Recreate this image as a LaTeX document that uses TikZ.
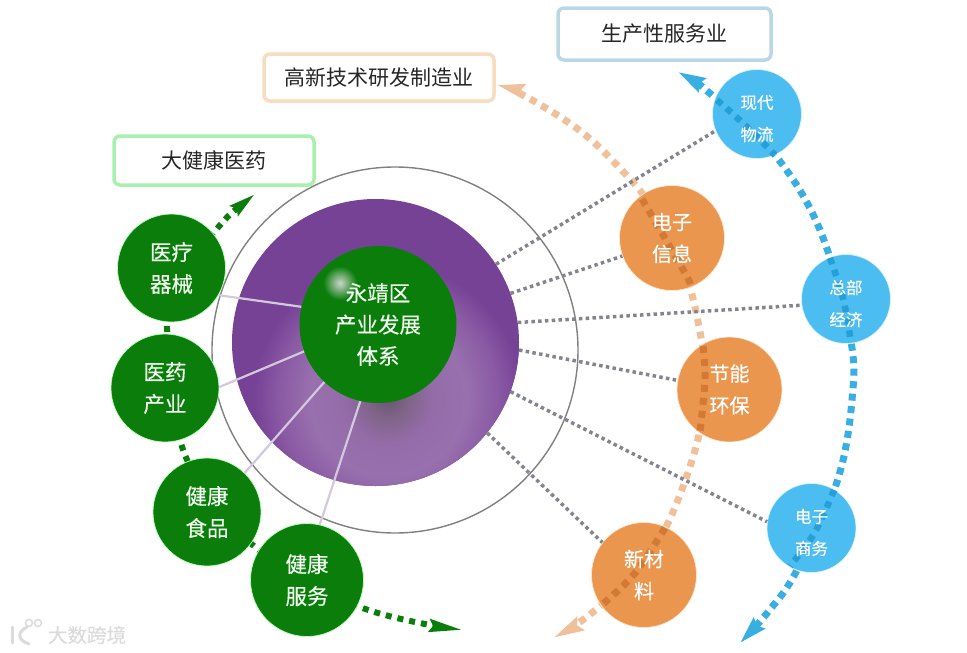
\documentclass[tikz,border=0pt]{standalone}
\usepackage{fontspec}
\usepackage{tikz}
\usetikzlibrary{arrows.meta}
\setmainfont{Noto Sans CJK SC}
\newfontfamily\heavycjk[FakeBold=0.35]{Noto Sans CJK SC}

\definecolor{leafgreen}{HTML}{0B7D0B}
\definecolor{ringpurple}{HTML}{764296}
\definecolor{sunorange}{HTML}{EB964F}
\definecolor{skyblue}{HTML}{4CBDF0}
\definecolor{arcorange}{HTML}{F0C09A}
\definecolor{arcdeep}{HTML}{D27A35}
\definecolor{arcblue}{HTML}{38AEE2}
\definecolor{arcbluedeep}{HTML}{259FD8}
\definecolor{dotgrey}{HTML}{84848E}
\definecolor{spokegrey}{HTML}{D4C8DC}
\definecolor{glowa}{HTML}{6A5570}
\definecolor{glowb}{HTML}{7F6488}
\definecolor{glowc}{HTML}{946CA8}
\definecolor{glowd}{HTML}{9870AE}
\definecolor{glowe}{HTML}{8A5AA4}
\definecolor{boxgreen}{HTML}{A8F0B0}
\definecolor{boxorange}{HTML}{F8DCC0}
\definecolor{boxblue}{HTML}{B8D8E4}

\pgfdeclareradialshading{ringglow}{\pgfpointorigin}{
  color(0bp)=(glowa);
  color(3.5bp)=(glowb);
  color(8bp)=(glowc);
  color(14bp)=(glowd);
  color(19.5bp)=(glowe);
  color(24bp)=(ringpurple);
  color(50bp)=(ringpurple)
}

\tikzset{
  greennode/.style={circle, fill=leafgreen, draw=green!25!white, line width=0.7pt, inner sep=0pt},
  orangenode/.style={circle, fill=sunorange, draw=orange!20!white, line width=0.7pt, minimum size=105pt, inner sep=0pt},
  bluenode/.style={circle, fill=skyblue, draw=cyan!15!white, line width=0.7pt, minimum size=89pt, inner sep=0pt},
  paletext/.style={text=green!6!white, align=center, font=\heavycjk\fontsize{21.5}{32}\selectfont},
  whitetext/.style={text=white, align=center, font=\heavycjk\fontsize{20}{32}\selectfont},
  smalltext/.style={text=white, align=center, yshift=-4.5pt, font=\heavycjk\fontsize{16.5}{32}\selectfont},
  titlebox/.style={rectangle, rounded corners=6pt, fill=white, line width=3.5pt, text=black!85, font=\fontsize{21}{26}\selectfont},
  spoke/.style={spokegrey, line width=2.2pt},
  dotline/.style={dotgrey, line width=3.5pt, dash pattern=on 3.5pt off 3.3pt},
  greenarc/.style={leafgreen, line width=6pt, dash pattern=on 6pt off 6pt,
    {Stealth[length=26pt,width=12pt,inset=3pt]}-{Stealth[length=33pt,width=12pt,inset=3pt]}},
  orangearc/.style={arcorange, line width=7pt, dash pattern=on 7pt off 6pt,
    {Stealth[length=27pt,width=14pt,inset=3pt]}-{Stealth[length=30pt,width=14pt,inset=3pt]}},
  bluearc/.style={arcblue, line width=7pt, dash pattern=on 7pt off 5.5pt,
    {Stealth[length=27pt,width=15pt,inset=3pt]}-{Stealth[length=27pt,width=15pt,inset=3pt]}},
  orangeinner/.style={draw=arcdeep, line width=7pt, dash pattern=on 7pt off 6pt},
  blueinner/.style={draw=arcbluedeep, line width=6.5pt, dash pattern=on 6.5pt off 6pt},
  markline/.style={black!14, line width=3pt, line cap=round},
}

\begin{document}
\begin{tikzpicture}[x=1pt, y=-1pt]
  \useasboundingbox (0,0) rectangle (967,653);

  % title boxes
  \node[titlebox, draw=boxgreen, minimum width=200pt, minimum height=49pt] (t1) at (214,160.5) {大健康医药};
  \node[titlebox, draw=boxorange, minimum width=230pt, minimum height=47pt] (t2) at (379,77.5) {高新技术研发制造业};
  \node[titlebox, draw=boxblue, minimum width=213pt, minimum height=52pt] (t3) at (664.5,34) {生产性服务业};

  % rings
  \node[circle, draw=black!50, line width=1.4pt, minimum size=366pt, inner sep=0pt] (shell) at (395,350) {};
  \node[circle, fill=ringpurple, minimum size=287pt, inner sep=0pt] (ring) at (375.5,342.5) {};
  \begin{scope}
    \clip (375.5,342.5) circle (143.5pt);
    \shade[shading=ringglow] (388,398) circle (140pt);
  \end{scope}

  % green arc
  \coordinate (ga) at (255,194);
  \coordinate (gb) at (215,231);
  \coordinate (gc) at (172,290);
  \coordinate (gd) at (167,328);
  \coordinate (ge) at (185,455);
  \coordinate (gf) at (255,547);
  \coordinate (gg) at (360,607);
  \coordinate (gh) at (463,630);
  \draw[greenarc] plot[smooth, tension=0.6] coordinates {(ga) (gb) (gc) (gd) (ge) (gf) (gg) (gh)};

  % orange arc
  \coordinate (oa) at (497,85);
  \coordinate (ob) at (523,95);
  \coordinate (oc) at (575,127);
  \coordinate (od) at (612,160);
  \coordinate (oe) at (652,207);
  \coordinate (of) at (685,273);
  \coordinate (og) at (700,332);
  \coordinate (oh) at (705,380);
  \coordinate (oi) at (697,443);
  \coordinate (oj) at (668,523);
  \coordinate (ok) at (635,573);
  \coordinate (ol) at (588,616);
  \coordinate (om) at (553,638);
  \draw[orangearc] plot[smooth, tension=0.6] coordinates {(oa) (ob) (oc) (od) (oe) (of) (og) (oh) (oi) (oj) (ok) (ol) (om)};

  % blue arc
  \coordinate (ba) at (678,72);
  \coordinate (bb) at (713,96);
  \coordinate (bc) at (775,155);
  \coordinate (bd) at (820,230);
  \coordinate (be) at (850,336);
  \coordinate (bf) at (852,400);
  \coordinate (bg) at (837,482);
  \coordinate (bh) at (796,572);
  \coordinate (bi) at (768,612);
  \coordinate (bj) at (740,643);
  \draw[bluearc] plot[smooth, tension=0.6] coordinates {(ba) (bb) (bc) (bd) (be) (bf) (bg) (bh) (bi) (bj)};

  % nodes
  \node[circle, fill=leafgreen, minimum size=157pt, inner sep=0pt] (core) at (378,324.5) {};
  \shade[inner color=green!15!black!20!white, outer color=leafgreen] (340,283) circle (17pt);
  \node[text=green!6!white, align=center, font=\heavycjk\fontsize{21.5}{31.5}\selectfont] (corelabel) at (378,324.5) {永靖区\\产业发展\\体系};

  \node[greennode, minimum size=108pt, paletext] (g1) at (171.5,268) {医疗\\器械};
  \node[greennode, minimum size=108pt, paletext] (g2) at (165,388) {医药\\产业};
  \node[greennode, minimum size=108pt, paletext] (g3) at (207,512) {健康\\食品};
  \node[greennode, minimum size=113pt, paletext] (g4) at (307,580) {健康\\服务};

  \node[orangenode] (o1) at (672,238) {};
  \node[orangenode] (o2) at (729.5,389.5) {};
  \node[orangenode] (o3) at (644,575) {};
  \node[bluenode] (b1) at (757,114) {};
  \node[bluenode] (b2) at (846,299) {};
  \node[bluenode] (b3) at (811.5,528) {};

  % spokes
  \draw[spoke] (core.167) -- (g1.-30);
  \draw[spoke] (core.200) -- (g2.1);
  \draw[spoke] (core.227) -- (g3.46);
  \draw[spoke] (core.257) -- (g4.77);

  % dotted lines
  \draw[dotline] (ring.33.7) -- (b1.202);
  \draw[dotline] (ring.20.7) -- (o1.200);
  \draw[dotline] (ring.8.9) -- (b2.188);
  \draw[dotline] (ring.-3) -- (o2.170);
  \draw[dotline] (ring.-20) -- (b3.172);
  \draw[dotline] (ring.-39.5) -- (o3.142);

  % arc pieces inside the circles
  \coordinate (oi1) at (642,199);
  \coordinate (oo1) at (690,285);
  \coordinate (oi2) at (703,346);
  \coordinate (oo2) at (700,431);
  \coordinate (oi3) at (665,528);
  \coordinate (oo3) at (603,604);
  \coordinate (bi1) at (717,100);
  \coordinate (bm1) at (745,125);
  \coordinate (bi2) at (830,258);
  \coordinate (bm2) at (843,298);
  \coordinate (bo2) at (851,342);
  \coordinate (bi3) at (834,490);
  \coordinate (bm3) at (815,532);
  \coordinate (bo3) at (790,566);
  \draw[orangeinner] plot[smooth, tension=0.6] coordinates {(oi1) (of) (oo1)};
  \draw[orangeinner] plot[smooth, tension=0.6] coordinates {(oi2) (oh) (oo2)};
  \draw[orangeinner] plot[smooth, tension=0.6] coordinates {(oi3) (ok) (oo3)};
  \draw[blueinner] plot[smooth, tension=0.6] coordinates {(bi1) (bm1) (bc)};
  \draw[blueinner] plot[smooth, tension=0.6] coordinates {(bi2) (bm2) (bo2)};
  \draw[blueinner] plot[smooth, tension=0.6] coordinates {(bi3) (bm3) (bo3)};

  % labels
  \node[whitetext] (o1label) at (o1) {电子\\信息};
  \node[whitetext] (o2label) at (o2) {节能\\环保};
  \node[whitetext] (o3label) at (o3) {新材\\料};
  \node[smalltext] (b1label) at (b1) {现代\\物流};
  \node[smalltext] (b2label) at (b2) {总部\\经济};
  \node[smalltext] (b3label) at (b3) {电子\\商务};

  % watermark
  \node[text=black!14, font=\heavycjk\fontsize{19.5}{24}\selectfont] (mark) at (87,635) {大数跨境};
  \draw[markline] (12,627) -- (12,643);
  \draw[markline] (27,627) .. controls (17,632) and (17,640) .. (29,644);
  \draw[markline, line width=1.5pt] (29,623) circle (3.5pt);
  \draw[markline, line width=1.5pt] (38,623) circle (3.5pt);
\end{tikzpicture}
\end{document}
